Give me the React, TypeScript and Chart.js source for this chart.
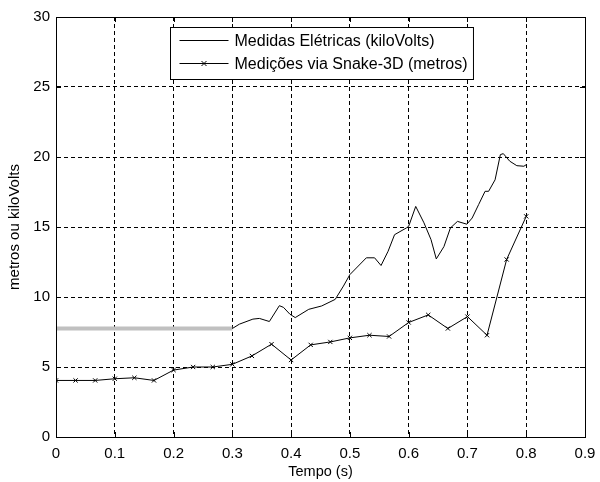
import React, { useEffect, useRef } from "react";
import { Chart, registerables } from "chart.js";

Chart.register(...registerables);

const timeEletrica = [0.3, 0.312, 0.335, 0.346, 0.363, 0.38, 0.387, 0.398, 0.407, 0.43, 0.452, 0.475, 0.489, 0.5, 0.528, 0.542, 0.553, 0.565, 0.576, 0.596, 0.6, 0.612, 0.626, 0.638, 0.647, 0.66, 0.671, 0.683, 0.699, 0.708, 0.719, 0.73, 0.736, 0.747, 0.756, 0.761, 0.772, 0.784, 0.796, 0.8];
const valEletrica = [7.75, 8.06, 8.42, 8.47, 8.25, 9.38, 9.26, 8.77, 8.53, 9.12, 9.36, 9.83, 10.78, 11.6, 12.8, 12.8, 12.25, 13.27, 14.45, 14.93, 15.05, 16.47, 15.3, 14.1, 12.72, 13.6, 14.93, 15.4, 15.2, 15.64, 16.6, 17.55, 17.55, 18.37, 20.17, 20.24, 19.7, 19.38, 19.34, 19.45];

const timeSnake = [0, 0.0333, 0.0667, 0.1, 0.1333, 0.1667, 0.2, 0.2333, 0.2667, 0.3, 0.3333, 0.3667, 0.4, 0.4333, 0.4667, 0.5, 0.5333, 0.5667, 0.6, 0.6333, 0.6667, 0.7, 0.7333, 0.7667, 0.8];
const valSnake = [4.04, 4.04, 4.04, 4.16, 4.23, 4.04, 4.78, 5.0, 5.0, 5.19, 5.79, 6.63, 5.5, 6.58, 6.79, 7.08, 7.27, 7.18, 8.18, 8.72, 7.75, 8.6, 7.27, 12.68, 15.76];

const timeReferencia = [0, 0.3];
const valReferencia = [7.75, 7.75];

const legendLabels = ["Medidas Elétricas (kiloVolts)", "Medições via Snake-3D (metros)"];
const xTitle = "Tempo (s)";
const yTitle = "metros ou kiloVolts";

const FONT = "'Liberation Sans', Arial, sans-serif";

const boxPlugin = {
  id: "matlabBox",
  afterDraw(chart: any) {
    const { ctx, chartArea: a, scales } = chart;
    ctx.save();
    ctx.strokeStyle = "#000";
    ctx.lineWidth = 1;
    ctx.setLineDash([]);
    ctx.strokeRect(Math.round(a.left) + 0.5, Math.round(a.top) + 0.5, Math.round(a.right - a.left), Math.round(a.bottom - a.top));
    const tl = 5;
    ctx.beginPath();
    scales.x.ticks.forEach((t: any) => {
      const px = Math.round(scales.x.getPixelForValue(t.value)) + 0.5;
      ctx.moveTo(px, a.bottom); ctx.lineTo(px, a.bottom - tl);
      ctx.moveTo(px, a.top); ctx.lineTo(px, a.top + tl);
    });
    scales.y.ticks.forEach((t: any) => {
      const py = Math.round(scales.y.getPixelForValue(t.value)) + 0.5;
      ctx.moveTo(a.left, py); ctx.lineTo(a.left + tl, py);
      ctx.moveTo(a.right, py); ctx.lineTo(a.right - tl, py);
    });
    ctx.stroke();

    // legend
    ctx.font = "16px " + FONT;
    const w = Math.max(...legendLabels.map((l) => ctx.measureText(l).width));
    const lineLen = 49;
    const bw = 9 + lineLen + 6 + w + 6;
    const bh = 52;
    const cx = (a.left + a.right) / 2 + 1;
    const bx = Math.round(cx - bw / 2) + 0.5;
    const by = Math.round(a.top + 10) + 0.5;
    ctx.fillStyle = "#fff";
    ctx.fillRect(bx, by, bw, bh);
    ctx.strokeStyle = "#000";
    ctx.strokeRect(bx, by, bw, bh);
    ctx.textBaseline = "middle";
    ctx.textAlign = "left";
    legendLabels.forEach((lab, i) => {
      const ly = Math.round(by + 12 + i * 23.5) + 0.5;
      const lx = bx + 9;
      ctx.beginPath();
      ctx.moveTo(lx, ly);
      ctx.lineTo(lx + lineLen, ly);
      ctx.stroke();
      if (i === 1) {
        const mx = lx + lineLen / 2;
        const r = 2.5;
        ctx.beginPath();
        ctx.moveTo(mx - r, ly - r); ctx.lineTo(mx + r, ly + r);
        ctx.moveTo(mx - r, ly + r); ctx.lineTo(mx + r, ly - r);
        ctx.stroke();
      }
      ctx.fillStyle = "#000";
      ctx.fillText(lab, lx + lineLen + 6, ly + 1);
    });
    ctx.restore();
  },
};

export default function App() {
  const ref = useRef<HTMLCanvasElement>(null);
  useEffect(() => {
    if (!ref.current) return;
    const chart = new Chart(ref.current, {
      type: "line",
      data: {
        datasets: [
          {
            label: "referencia",
            data: timeReferencia.map((x, i) => ({ x, y: valReferencia[i] })),
            borderColor: "#c0c0c0",
            borderWidth: 4,
            pointRadius: 0,
            borderCapStyle: "butt",
          },
          {
            label: legendLabels[0],
            data: timeEletrica.map((x, i) => ({ x, y: valEletrica[i] })),
            borderColor: "#000",
            borderWidth: 1,
            pointRadius: 0,
          },
          {
            label: legendLabels[1],
            data: timeSnake.map((x, i) => ({ x, y: valSnake[i] })),
            borderColor: "#000",
            borderWidth: 1,
            pointStyle: "crossRot",
            pointRadius: 3,
            pointBorderColor: "#000",
            pointBorderWidth: 1,
          },
        ],
      },
      options: {
        animation: false,
        responsive: true,
        maintainAspectRatio: false,
        layout: { padding: { left: 0, right: 15, top: 17, bottom: 0 } },
        plugins: { legend: { display: false }, tooltip: { enabled: false } },
        scales: {
          x: {
            type: "linear",
            min: 0,
            max: 0.9,
            afterFit: (s: any) => { s.height = 45; s.paddingRight = 12; s.paddingLeft = 0; },
            ticks: { stepSize: 0.1, color: "#000", font: { family: FONT, size: 15 }, padding: 8, maxRotation: 0,
              callback: (v: any) => (Math.round(Number(v) * 10) / 10).toString() },
            grid: { color: "#000", drawTicks: false, lineWidth: 1 },
            border: { display: true, color: "#000", dash: [4, 3] },
            title: { display: true, text: xTitle, color: "#000", font: { family: FONT, size: 14.5 }, padding: { top: 0, bottom: 1 } },
          },
          y: {
            min: 0,
            max: 30,
            afterFit: (s: any) => { s.width = 56; },
            ticks: { stepSize: 5, color: "#000", font: { family: FONT, size: 15 }, padding: 6 },
            grid: { color: "#000", drawTicks: false, lineWidth: 1 },
            border: { display: true, color: "#000", dash: [4, 3] },
            title: { display: true, text: yTitle, color: "#000", font: { family: FONT, size: 15 }, padding: { top: 6, bottom: 0 } },
          },
        },
      },
      plugins: [boxPlugin],
    });
    return () => chart.destroy();
  }, []);
  return (
    <div style={{ position: "absolute", left: 0, top: 0, width: 600, height: 482, background: "#fff" }}>
      <canvas ref={ref} />
    </div>
  );
}
